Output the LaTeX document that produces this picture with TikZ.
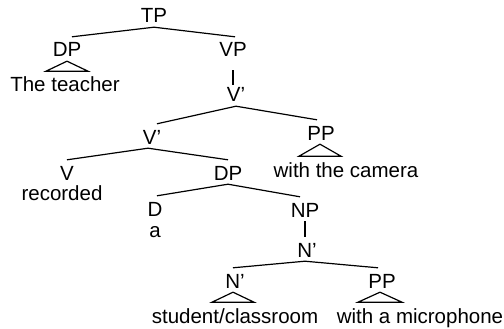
\documentclass[tikz,border=0pt]{standalone}
\usepackage{fontspec}
\setmainfont{Liberation Sans}
\begin{document}
\begin{tikzpicture}[x=1pt,y=-1pt,
  lab/.style={font=\fontsize{20.5}{24}\selectfont, inner sep=0pt, anchor=base, text height=20pt, text depth=4pt},
  branch/.style={line width=1.2pt},
  tri/.style={line width=1.2pt}]
\useasboundingbox (0,0) rectangle (504,329);
% labels
\node[lab] (TP) at (154,23) {TP};
\node[lab] (DPa) at (67,57) {DP};
\node[lab] (VP) at (233,57) {VP};
\node[lab] (Va) at (236,102) {V’};
\node[lab] (Vb) at (152,144) {V’};
\node[lab] (PPa) at (321,140) {PP};
\node[lab] (V) at (67,180) {V};
\node[lab] (DPb) at (228,180) {DP};
\node[lab] (D) at (155,216) {D};
\node[lab] (NP) at (305,217) {NP};
\node[lab] (Na) at (307,257) {N’};
\node[lab] (Nb) at (235,288) {N’};
\node[lab] (PPb) at (382,288) {PP};
% words
\node[lab] (teacher) at (65,92) {The teacher};
\node[lab] (camera) at (346,177) {with the camera};
\node[lab] (recorded) at (62,200) {recorded};
\node[lab] (a) at (155,237) {a};
\node[lab] (student) at (235,323) {student/classroom};
\node[lab] (mic) at (420,323) {with a microphone};
% branches
\draw[branch] ([xshift=5pt]DPa.north) -- (TP.south) -- ([xshift=2pt]VP.north);
\draw[branch, shorten <=9pt, shorten >=-3pt] (VP.south) -- (VP.south |- Va.north);
\draw[branch] ([xshift=5pt]Vb.north) -- (Va.south) -- ([xshift=-4pt]PPa.north);
\draw[branch] (V.north) -- ([xshift=-4pt]Vb.south) -- (DPb.north);
\draw[branch] ([xshift=2pt]D.north) -- (DPb.south) -- ([xshift=-5pt]NP.north);
\draw[branch] (NP.south) -- (NP.south |- Na.north);
\draw[branch] ([xshift=-2pt]Nb.north) -- ([xshift=-2pt]Na.south) -- ([xshift=-4pt]PPb.north);
% triangles
\draw[tri] (DPa.south) -- ++(-21,10) -- ++(42,0) -- cycle;
\draw[tri] ([xshift=-1pt]PPa.south) -- ++(-21,12) -- ++(42,0) -- cycle;
\draw[tri] ([xshift=-2pt]Nb.south) -- ++(-21,10) -- ++(42,0) -- cycle;
\draw[tri] ([xshift=-2pt]PPb.south) -- ++(-22,10) -- ++(44,0) -- cycle;
\end{tikzpicture}
\end{document}
